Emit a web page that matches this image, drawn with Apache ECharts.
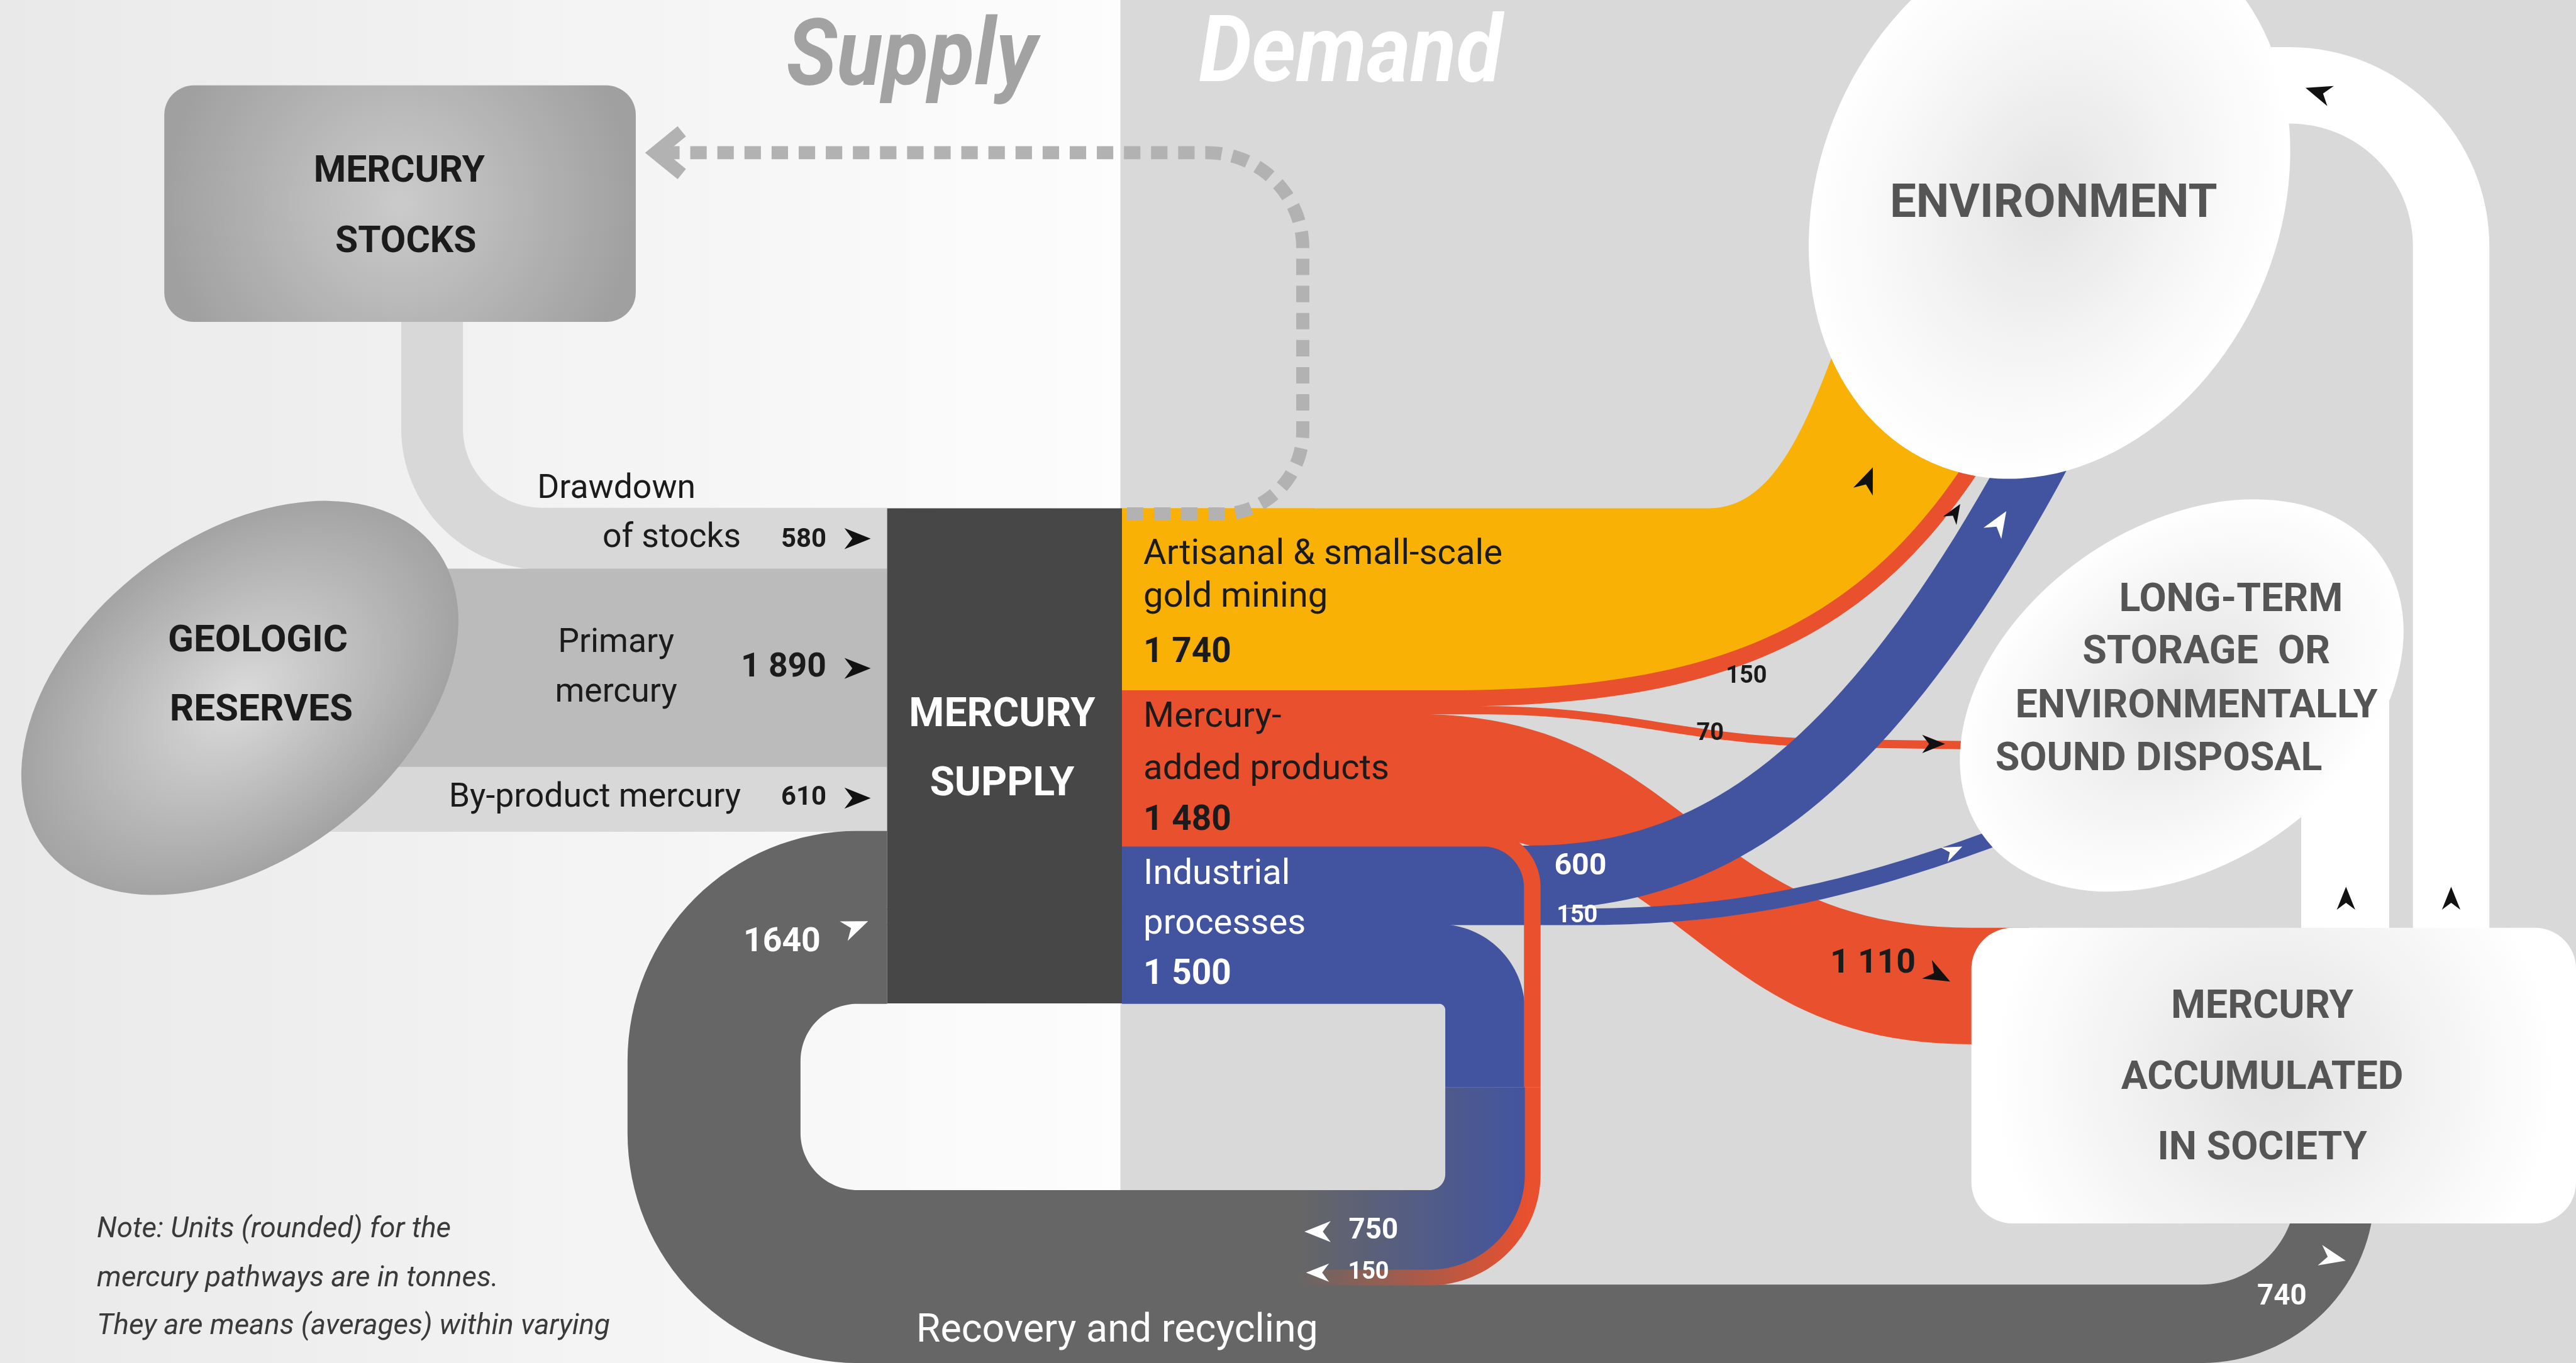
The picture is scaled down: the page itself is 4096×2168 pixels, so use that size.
<!DOCTYPE html>
<html>
<head>
<meta charset="utf-8">
<title>Mercury supply and demand</title>
<script src="https://cdn.jsdelivr.net/npm/echarts/dist/echarts.min.js"></script>
<style>
html,body{margin:0;padding:0;overflow:hidden;background:#fff}
#chart{width:4096px;height:2168px}
</style>
</head>
<body>
<div id="chart"></div>
<script>
// ---------------- DATA (tonnes, rounded, as printed) ----------------
const supplySources = ['Drawdown of stocks', 'Primary mercury', 'By-product mercury', 'Recovery and recycling'];
const supplyValues  = [580, 1890, 610, 1640];

const demandSectors = ['Artisanal & small-scale gold mining', 'Mercury-added products', 'Industrial processes'];
const demandValues  = [1740, 1480, 1500];

const asgmTargets = ['Environment'];
const asgmValues  = [1740];

const productTargets = ['Environment', 'Long-term storage or disposal', 'Mercury accumulated in society', 'Recovery and recycling'];
const productValues  = [150, 70, 1110, 150];

const industrialTargets = ['Environment', 'Long-term storage or disposal', 'Recovery and recycling'];
const industrialValues  = [600, 150, 750];

const societyTargets = ['Recovery and recycling', 'Long-term storage or disposal', 'Environment'];
const societyValues  = [740, 830, 720];   // the last two are unlabelled: estimated from band widths

// recycled flows entering supply, from outer ring to inner ring
const recyclingSources = ['Mercury accumulated in society', 'Mercury-added products', 'Industrial processes'];
const recyclingValues  = [740, 150, 750];

// ---------------- LAYOUT (reference units, 1568 x 830 frame) ----------------
const L = {
  W: 1568, H: 830,
  top: 309.5, colH: 301.5,
  supX0: 540, supX1: 683, divX: 682,
  hole: {x0: 487, x1: 880, y1: 725, rl: 35, rr: 10},
  splitY: 662, gradX0: 790, gradX1: 930,
  socTop: 565
};
const sum = a => a.reduce((x, y) => x + y, 0);
const starts = a => { const s = []; let c = 0; for (const v of a) { s.push(c); c += v; } return s; };
const TOTAL = sum(supplyValues);
const TPU = TOTAL / L.colH;          // tonnes per layout unit -> axis scale

const YELLOW = '#F8B104', ORANGE = '#E8502E', BLUE = '#4254A0', LOOP = '#666666';

// ---------------- geometry helpers ----------------
function bez(p0, p1, p2, p3, n) {
  n = n || 48; const pts = [];
  for (let i = 0; i <= n; i++) {
    const t = i / n, u = 1 - t, a = u*u*u, b = 3*u*u*t, c = 3*u*t*t, d = t*t*t;
    pts.push([a*p0[0]+b*p1[0]+c*p2[0]+d*p3[0], a*p0[1]+b*p1[1]+c*p2[1]+d*p3[1]]);
  }
  return pts;
}
function join() {
  const out = [];
  for (const part of arguments) for (const p of part) {
    const l = out[out.length - 1];
    if (!l || Math.hypot(l[0]-p[0], l[1]-p[1]) > 1e-6) out.push(p);
  }
  return out;
}
function roundPoly(v) {
  const out = [[v[0][0], v[0][1]]];
  for (let i = 1; i < v.length; i++) {
    const cur = v[i];
    if (i === v.length - 1 || !cur[2]) { out.push([cur[0], cur[1]]); continue; }
    const prev = v[i-1], next = v[i+1];
    let d1 = [cur[0]-prev[0], cur[1]-prev[1]]; let l = Math.hypot(d1[0], d1[1]); d1 = [d1[0]/l, d1[1]/l];
    let d2 = [next[0]-cur[0], next[1]-cur[1]]; l = Math.hypot(d2[0], d2[1]); d2 = [d2[0]/l, d2[1]/l];
    const cross = d1[0]*d2[1] - d1[1]*d2[0], dot = d1[0]*d2[0] + d1[1]*d2[1];
    const th = Math.atan2(Math.abs(cross), dot), r = cur[2], tl = r * Math.tan(th / 2);
    const t1 = [cur[0]-d1[0]*tl, cur[1]-d1[1]*tl];
    const n1 = cross > 0 ? [-d1[1], d1[0]] : [d1[1], -d1[0]];
    const c = [t1[0]+n1[0]*r, t1[1]+n1[1]*r];
    const a0 = Math.atan2(t1[1]-c[1], t1[0]-c[0]), sw = cross > 0 ? th : -th;
    const n = Math.max(8, Math.ceil(th / (Math.PI / 64)));
    for (let k = 0; k <= n; k++) { const a = a0 + sw*k/n; out.push([c[0]+r*Math.cos(a), c[1]+r*Math.sin(a)]); }
  }
  return join(out);
}
function normals(pts) {
  return pts.map((p, i) => {
    const a = pts[Math.max(0, i-1)], b = pts[Math.min(pts.length-1, i+1)];
    let dx = b[0]-a[0], dy = b[1]-a[1]; const l = Math.hypot(dx, dy) || 1;
    return [dy/l, -dx/l];
  });
}
function offset(pts, o) { const ns = normals(pts); return pts.map((p, i) => [p[0]+ns[i][0]*o, p[1]+ns[i][1]*o]); }
function band(pts, o1, o2) { return offset(pts, o1).concat(offset(pts, o2).reverse()); }

function renderItem(params, api) {
  const P = (x, y) => api.coord([x * TPU, y * TPU]);
  const PX = t => Math.abs(api.size([0, t])[1]);
  const U = PX(TPU);
  const Y = t => t / TPU;
  const SEAM = 0.7;   // tiny overlap (px) so adjacent ribbons do not show hairline gaps
  const toPx = pts => pts.map(p => P(p[0], p[1]));
  const els = [];
  const poly = (pts, fill) => els.push({type: 'polygon', shape: {points: pts}, style: {fill: fill}});
  const rect = (x0, y0, x1, y1, fill, r) => {
    const a = P(x0, y0), b = P(x1, y1);
    els.push({type: 'rect', shape: {x: a[0], y: a[1], width: b[0]-a[0], height: b[1]-a[1], r: (r || 0) * U}, style: {fill: fill}});
  };
  const ribbon = (ptsL, tonnes, fill) => { const px = toPx(ptsL), h = PX(tonnes) / 2 + SEAM; poly(band(px, h, -h), fill); };
  const oval = (cx, cy, rx, ry, deg, fill) => {
    const c = P(cx, cy);
    els.push({type: 'circle', shape: {cx: 0, cy: 0, r: 1}, x: c[0], y: c[1], scaleX: rx*U, scaleY: ry*U,
              rotation: deg * Math.PI / 180, style: {fill: fill}});
  };
  const text = (s, x, y, size, o) => {
    o = o || {};
    const c = P(x, y), al = o.align || 'center';
    const font = (o.italic ? 'italic ' : '') + (o.weight || 'normal') + ' ' + (size * U).toFixed(1) + 'px ' + (o.family || 'Roboto, "DejaVu Sans", sans-serif');
    els.push({type: 'text', x: c[0], y: c[1], scaleX: o.sx || 1,
      style: {text: s, font: font, fill: o.color || '#1b1b1b', align: al, verticalAlign: 'middle', textAlign: al, textVerticalAlign: 'middle'}});
  };
  const arrow = (x, y, deg, s, color) => {
    const a = deg * Math.PI / 180, ca = Math.cos(a), sa = Math.sin(a);
    const loc = [[s, 0], [-s, -0.8*s], [-0.4*s, 0], [-s, 0.8*s]];
    poly(loc.map(q => P(x + q[0]*ca - q[1]*sa, y + q[0]*sa + q[1]*ca)), color);
  };
  const radial = (c0, c1, mid, r) => new echarts.graphic.RadialGradient(0.5, 0.5, r || 0.5,
      mid ? [{offset: 0, color: c0}, {offset: mid[0], color: mid[1]}, {offset: 1, color: c1}] : [{offset: 0, color: c0}, {offset: 1, color: c1}]);

  // ---------- background ----------
  rect(0, 0, L.divX, L.H, new echarts.graphic.LinearGradient(0, 0, 1, 0, [{offset: 0, color: '#E9E9E9'}, {offset: 1, color: '#FDFDFD'}]));
  rect(L.divX, 0, L.W, L.H, '#D9D9D9');

  // ---------- titles ----------
  text('Supply', 555, 37, 57, {weight: 'bold', italic: true, color: '#A2A2A2', sx: 0.9});
  text('Demand', 822, 35, 57, {weight: 'bold', italic: true, color: '#FFFFFF', sx: 0.9});

  // ---------- supply inputs ----------
  const sS = starts(supplyValues);
  const supC = supplyValues.map((v, i) => L.top + Y(sS[i] + v / 2));
  ribbon(roundPoly([[263, 185], [263, supC[0], 67], [L.supX0, supC[0]]]), supplyValues[0], '#D8D8D8');
  ribbon([[200, supC[1]], [L.supX0, supC[1]]], supplyValues[1], '#BBBBBB');
  ribbon([[150, supC[2]], [L.supX0, supC[2]]], supplyValues[2], '#D8D8D8');

  // ---------- recovery & recycling loop ----------
  const H = L.hole, holeY0 = L.top + Y(TOTAL);
  const ring = (inner, v) => {
    const m = Y(inner + v / 2);
    return {xl: H.x0 - m, yb: H.y1 + m, yt: holeY0 - m, rl: H.rl + m, xr: H.x1 + m, rr: H.rr + m};
  };
  const gI = ring(0, recyclingValues[2]);                       // industrial 750 (inner)
  const gP = ring(recyclingValues[2], recyclingValues[1]);      // products 150
  const gS = ring(recyclingValues[2] + recyclingValues[1], recyclingValues[0]); // society 740 (outer)
  ribbon(roundPoly([[1421.5, 700], [1421.5, gS.yb, 81.5], [gS.xl, gS.yb, gS.rl], [gS.xl, gS.yt, gS.rl], [L.supX0, gS.yt]]), recyclingValues[0], LOOP);
  const gx0 = P(L.gradX0, 0)[0], gx1 = P(L.gradX1, 0)[0];
  const fade = col => new echarts.graphic.LinearGradient(gx0, 0, gx1, 0, [{offset: 0, color: LOOP}, {offset: 1, color: col}], true);
  ribbon(roundPoly([[gP.xr, L.splitY], [gP.xr, gP.yb, gP.rr], [gP.xl, gP.yb, gP.rl], [gP.xl, gP.yt, gP.rl], [L.supX0, gP.yt]]), recyclingValues[1], fade(ORANGE));
  ribbon(roundPoly([[gI.xr, L.splitY], [gI.xr, gI.yb, gI.rr], [gI.xl, gI.yb, gI.rl], [gI.xl, gI.yt, gI.rl], [L.supX0, gI.yt]]), recyclingValues[2], fade(BLUE));

  // ---------- supply column ----------
  rect(L.supX0, L.top, L.supX1, holeY0, '#474747');

  // ---------- demand nodes ----------
  const dS = starts(demandValues);
  const dTop = demandValues.map((v, i) => L.top + Y(dS[i]));
  [YELLOW, ORANGE, BLUE].forEach((c, i) => rect(L.supX1, dTop[i], 800, dTop[i] + Y(demandValues[i]), c));
  const pS = starts(productValues), iS = starts(industrialValues);

  // products -> society (1110), sankey style
  const y1110 = dTop[1] + Y(pS[2]);
  const top1110 = toPx(join([[L.supX1, y1110], [860, y1110]], bez([860, y1110], [1030, y1110], [1030, L.socTop], [1200, L.socTop]), [[1235, L.socTop]]));
  const h1110 = PX(productValues[2]);
  poly(top1110.concat(top1110.map(p => [p[0], p[1] + h1110]).reverse()), ORANGE);

  // products -> storage (70)
  const y70 = dTop[1] + Y(pS[1] + productValues[1] / 2);
  ribbon(join([[L.supX1, y70], [900, y70]], bez([900, y70], [990, y70], [1020, 450], [1110, 452.5]), [[1212, 454]]), productValues[1], ORANGE);

  // ASGM -> environment (1740) + products -> environment (150)
  const yT = dTop[0], yB = dTop[0] + Y(asgmValues[0]);
  const topE = toPx(join([[L.supX1, yT], [1040, yT]], bez([1040, yT], [1080, yT], [1100, 260], [1125, 190])));
  const botE = toPx(join([[L.supX1, yB], [880, yB]], bez([880, yB], [1050, yB], [1140, 380], [1210, 260])));
  poly(topE.concat(botE.slice().reverse()), YELLOW);
  poly(offset(botE, SEAM).concat(offset(botE, -PX(productValues[0])).reverse()), ORANGE);

  // industrial -> storage (150), -> environment (600)
  const yS150 = dTop[2] + Y(iS[1] + industrialValues[1] / 2);
  ribbon(join([[L.supX1, yS150], [960, yS150]], bez([960, yS150], [1050, yS150], [1120, 546], [1228, 505])), industrialValues[1], BLUE);
  const y600 = dTop[2] + Y(industrialValues[0] / 2);
  ribbon(join([[L.supX1, y600], [930, y600]], bez([930, y600], [1030, y600], [1130, 490], [1250, 260])), industrialValues[0], BLUE);

  // industrial -> recycling (750) and products -> recycling (150), upper parts
  const y750 = dTop[2] + Y(iS[2] + industrialValues[2] / 2);
  ribbon(roundPoly([[L.supX1, y750], [gI.xr, y750, 28], [gI.xr, L.splitY]]), industrialValues[2], BLUE);
  const yP150 = dTop[1] + Y(pS[3] + productValues[3] / 2);
  ribbon(roundPoly([[L.supX1, yP150], [gP.xr, yP150, 30], [gP.xr, L.splitY]]), productValues[3], ORANGE);

  // ---------- dashed return to stocks ----------
  const dash = toPx(roundPoly([[686, 313], [793, 313, 50], [793, 93, 58], [404, 93]]));
  els.push({type: 'polyline', shape: {points: dash}, style: {fill: 'none', stroke: '#B2B2B2', lineWidth: 8 * U, lineDash: [10 * U, 6.5 * U], lineCap: 'butt'}});
  els.push({type: 'polyline', shape: {points: toPx([[415, 80], [399, 93], [415, 106]])}, style: {fill: 'none', stroke: '#B2B2B2', lineWidth: 8 * U, lineJoin: 'miter'}});

  // ---------- society outflows (white) ----------
  ribbon([[1427.5, 610], [1427.5, 400]], societyValues[1], '#FFFFFF');
  ribbon(roundPoly([[1492, 610], [1492, 52, 98], [1370, 52]]), societyValues[2], '#FFFFFF');

  // ---------- nodes ----------
  oval(1247.5, 121, 140, 176, -24, radial('#E3E3E3', '#FFFFFF', [0.62, '#F6F6F6']));
  oval(1328, 423.5, 148, 103, 34.7, radial('#E1E1E1', '#FFFFFF', [0.6, '#F4F4F4']));
  rect(1200, L.socTop, 1568, 745, radial('#E2E2E2', '#FFFFFF', [0.5, '#F1F1F1'], 0.95), 25);
  oval(146, 425, 150, 98, 37.6, radial('#DBDBDB', '#A3A3A3'));
  rect(100, 52, 387, 196, radial('#CBCBCB', '#A0A0A0', null, 1.0), 18);

  // ---------- texts ----------
  text('MERCURY', 243, 105, 22.5, {weight: 'bold'});
  text('STOCKS', 247, 148, 22.5, {weight: 'bold'});
  text('GEOLOGIC', 157, 391, 23, {weight: 'bold'});
  text('RESERVES', 159, 433, 23, {weight: 'bold'});
  text('Drawdown', 327, 298, 20.5, {align: 'left'});
  text('of stocks', 451, 328, 20.5, {align: 'right'});
  text(String(supplyValues[0]), 503, 329, 16, {align: 'right', weight: 'bold'});
  text('Primary', 375, 392, 20.5);
  text('mercury', 375, 422, 20.5);
  text('1 890', 503, 407, 20.5, {align: 'right', weight: 'bold'});
  text('By-product mercury', 451, 486, 20.5, {align: 'right'});
  text(String(supplyValues[2]), 503, 486, 16, {align: 'right', weight: 'bold'});
  text('1640', 476, 574, 20.5, {weight: 'bold', color: '#FFFFFF'});
  text('MERCURY', 610, 436, 24.5, {weight: 'bold', color: '#FFFFFF'});
  text('SUPPLY', 610, 478, 24.5, {weight: 'bold', color: '#FFFFFF'});

  text('Artisanal & small-scale', 696, 338, 21.5, {align: 'left'});
  text('gold mining', 696, 364, 21.5, {align: 'left'});
  text('1 740', 696, 398, 21, {align: 'left', weight: 'bold'});
  text('Mercury-', 696, 437, 21.5, {align: 'left'});
  text('added products', 696, 469, 21.5, {align: 'left'});
  text('1 480', 696, 500, 21, {align: 'left', weight: 'bold'});
  text('Industrial', 696, 533, 21.5, {align: 'left', color: '#FFFFFF'});
  text('processes', 696, 563, 21.5, {align: 'left', color: '#FFFFFF'});
  text('1 500', 696, 594, 21, {align: 'left', weight: 'bold', color: '#FFFFFF'});

  text(String(industrialValues[0]), 962, 528, 18.5, {weight: 'bold', color: '#FFFFFF'});
  text(String(industrialValues[1]), 960, 558, 14.5, {weight: 'bold', color: '#FFFFFF'});
  text(String(productValues[0]), 1063, 412, 14.5, {weight: 'bold'});
  text(String(productValues[1]), 1041, 447, 14.5, {weight: 'bold'});
  text('1 110', 1140, 587, 20.5, {weight: 'bold'});
  text(String(industrialValues[2]), 836, 750, 17.5, {weight: 'bold', color: '#FFFFFF'});
  text(String(productValues[3]), 833, 775, 14.5, {weight: 'bold', color: '#FFFFFF'});
  text(String(societyValues[0]), 1389, 790, 17.5, {weight: 'bold', color: '#FFFFFF'});
  text('Recovery and recycling', 680, 811, 24, {color: '#FFFFFF'});

  text('ENVIRONMENT', 1250, 125, 28.5, {weight: 'bold', color: '#555555'});
  text('LONG-TERM', 1358, 366, 24, {weight: 'bold', color: '#555555'});
  text('STORAGE  OR', 1343, 398, 24, {weight: 'bold', color: '#555555'});
  text('ENVIRONMENTALLY', 1337, 431, 24, {weight: 'bold', color: '#555555'});
  text('SOUND DISPOSAL', 1314, 463, 24, {weight: 'bold', color: '#555555'});
  text('MERCURY', 1377, 614, 24, {weight: 'bold', color: '#555555'});
  text('ACCUMULATED', 1377, 657, 24, {weight: 'bold', color: '#555555'});
  text('IN SOCIETY', 1377, 700, 24, {weight: 'bold', color: '#555555'});

  text('Note: Units (rounded) for the', 59, 749, 17.5, {align: 'left', italic: true, color: '#3A3A3A'});
  text('mercury pathways are in tonnes.', 59, 779, 17.5, {align: 'left', italic: true, color: '#3A3A3A'});
  text('They are means (averages) within varying', 59, 808, 17.5, {align: 'left', italic: true, color: '#3A3A3A'});

  // ---------- arrowheads ----------
  arrow(522, 328, 0, 8, '#111'); arrow(522, 407, 0, 8, '#111'); arrow(522, 486, 0, 8, '#111');
  arrow(521, 564, -22, 8, '#FFFFFF');
  arrow(1137, 292, -68, 8, '#111');
  arrow(1190, 312, -58, 6, '#111');
  arrow(1217, 318, -58, 8, '#FFFFFF');
  arrow(1177, 453, 0, 7, '#111');
  arrow(1189, 518, -25, 6, '#FFFFFF');
  arrow(1180, 594, 28, 8, '#111');
  arrow(802, 750, 180, 8, '#FFFFFF'); arrow(802, 775, 180, 7, '#FFFFFF');
  arrow(1420, 766, 12, 8, '#FFFFFF');
  arrow(1411, 56, 198, 8, '#111');
  arrow(1428, 547, -90, 7, '#111'); arrow(1492, 547, -90, 7, '#111');

  return {type: 'group', children: els};
}

const chart = echarts.init(document.getElementById('chart'), null, {renderer: 'canvas', width: 4096, height: 2168});
chart.setOption({
  animation: false,
  grid: {left: 0, right: 0, top: 0, bottom: 0, containLabel: false},
  xAxis: {type: 'value', min: 0, max: L.W * TPU, show: false},
  yAxis: {type: 'value', min: 0, max: L.H * TPU, inverse: true, show: false},
  series: [{type: 'custom', coordinateSystem: 'cartesian2d', silent: true, clip: false, data: [[0, 0]], renderItem: renderItem}]
});
</script>
</body>
</html>
